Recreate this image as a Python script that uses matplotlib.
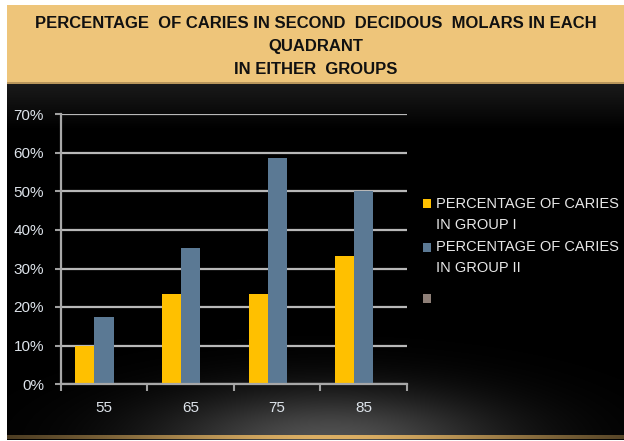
import numpy as np
import matplotlib
matplotlib.use("Agg")
import matplotlib.pyplot as plt
from matplotlib.patches import Patch, Rectangle
from matplotlib.legend_handler import HandlerBase

# ---- data ----
categories = ["55", "65", "75", "85"]
group1 = [0.10, 0.233, 0.233, 0.333]
group2 = [0.174, 0.353, 0.587, 0.50]
group3 = [np.nan, np.nan, np.nan, np.nan]
series_labels = ["PERCENTAGE OF CARIES\nIN GROUP I", "PERCENTAGE OF CARIES\nIN GROUP II", ""]
yticks = [0.0, 0.1, 0.2, 0.3, 0.4, 0.5, 0.6, 0.7]
ytick_labels = ["0%", "10%", "20%", "30%", "40%", "50%", "60%", "70%"]
title_lines = ["PERCENTAGE  OF CARIES IN SECOND  DECIDOUS  MOLARS IN EACH",
               "QUADRANT", "IN EITHER  GROUPS"]

plt.rcParams["font.family"] = ["Liberation Sans", "DejaVu Sans"]

W, H = 624, 441
fig = plt.figure(figsize=(W / 100, H / 100), dpi=100)
fig.patch.set_facecolor("white")

# ---- background image (decoration) ----
yy, xx = np.mgrid[0:H, 0:W].astype(float)
img = np.ones((H, W, 3))
box = (xx >= 7) & (yy >= 5) & (yy <= 439)
banner = box & (yy < 83)
black = box & (yy >= 83)
img[banner] = np.array([238, 197, 122]) / 255
edge = box & (yy >= 82) & (yy < 84)
img[edge] = np.array([185, 150, 92]) / 255
g = np.clip(1 - (yy - 84) / 45, 0, 1) * 26 / 255
glow = np.exp(-(((xx - 330) / 170) ** 2) - (((yy - 440) / 50) ** 2)) * 80 / 255
val = np.clip(g + glow, 0, 1)
for c in range(3):
    img[..., c] = np.where(black & (yy >= 84), val, img[..., c])
gold = box & (yy >= 435) & (yy <= 438)
amp = np.exp(-(((xx - 330) / 250) ** 2))
gcol = np.array([220, 175, 100]) / 255
for c in range(3):
    img[..., c] = np.where(gold, 0.2 * gcol[c] + amp * 0.8 * gcol[c], img[..., c])
bg = fig.add_axes([0, 0, 1, 1], zorder=-10)
bg.imshow(img, aspect="auto", extent=[0, W, H, 0], interpolation="bilinear")
bg.set_xlim(0, W)
bg.set_ylim(H, 0)
bg.axis("off")

for line, ypix in zip(title_lines, [21.5, 45.5, 68.5]):
    fig.text(316 / W, 1 - ypix / H, line, ha="center", va="center_baseline", fontsize=12,
             fontweight="bold", color="#111111")

# ---- chart ----
left, right = 60.7, 407
top, bottom = 114.5, 384
ax = fig.add_axes([left / W, 1 - bottom / H, (right - left) / W, (bottom - top) / H])
ax.set_facecolor("none")
x = np.arange(len(categories))
w = 0.22
cols = ["#FFC000", "#5B7994", "#8E7F77"]
handles = []
for i, (vals, col) in enumerate(zip([group1, group2, group3], cols)):
    ax.bar(x + (i - 1) * w, vals, width=w, color=col, zorder=3)
    handles.append(Patch(facecolor=col, edgecolor="none"))

ax.set_xlim(-0.5, 3.5)
ax.set_ylim(0, 0.7)
ax.set_yticks(yticks)
ax.set_yticklabels(ytick_labels)
ax.set_xticks([-0.5, 0.5, 1.5, 2.5, 3.5])
ax.set_xticklabels([])
ax.set_xticks(x, minor=True)
ax.set_xticklabels(categories, minor=True)
ax.tick_params(axis="x", which="major", direction="out", length=5, width=1.5, color="#A0A0A0")
ax.tick_params(axis="x", which="minor", length=0, pad=12, labelsize=11, labelcolor="#DDE3EA")
ax.tick_params(axis="y", direction="out", length=4, width=1.5, color="#A0A0A0",
               labelsize=11, labelcolor="#DDE3EA", pad=8)
ax.grid(axis="y", color="#B8B8B8", linewidth=1.6, zorder=1)
for s in ["top", "right"]:
    ax.spines[s].set_visible(False)
for s in ["left", "bottom"]:
    ax.spines[s].set_color("#A8A8A8")
    ax.spines[s].set_linewidth(1.6)
    ax.spines[s].set_zorder(4)


class ShiftedSquare(HandlerBase):
    def __init__(self, dy):
        super().__init__()
        self.dy = dy

    def create_artists(self, legend, orig_handle, xdescent, ydescent, width, height,
                       fontsize, trans):
        r = Rectangle((-xdescent, -ydescent + self.dy), width, height,
                      facecolor=orig_handle.get_facecolor(), edgecolor="none",
                      transform=trans)
        return [r]


hmap = {handles[0]: ShiftedSquare(7.8), handles[1]: ShiftedSquare(7.8),
        handles[2]: ShiftedSquare(-6.3)}
leg = ax.legend(handles, series_labels, loc="upper left", handler_map=hmap,
                bbox_to_anchor=(423 / W, 1 - 197 / H), bbox_transform=fig.transFigure,
                frameon=False, fontsize=10.5, labelcolor="#E8E8E8",
                handlelength=0.55, handleheight=0.55, handletextpad=0.35,
                labelspacing=0.6, borderaxespad=0, borderpad=0)
for t in leg.get_texts():
    t.set_linespacing(1.6)

fig.savefig("out.png", dpi=100)
